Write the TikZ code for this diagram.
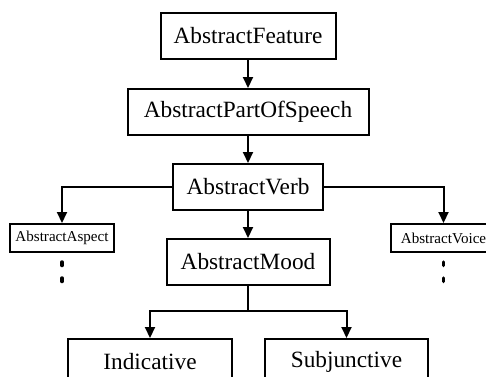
\documentclass[tikz,border=0pt]{standalone}
\usepackage{fontspec}
\setmainfont{Liberation Serif}
\usetikzlibrary{positioning, arrows.meta}

\begin{document}
\begin{tikzpicture}[
    % Set global spacing
    node distance=27pt,
    line width=2pt,
    % Define box styles
    base/.style={draw, inner sep=0pt, minimum height=46pt, font=\fontsize{23.3}{28}\selectfont},
    featbox/.style={base, minimum width=#1},
    smallbox/.style={base, minimum width=#1, minimum height=28pt, font=\fontsize{15.1}{18}\selectfont},
    % Dots under the side boxes
    vdot/.style={line width=3.5pt, line cap=round},
    % Arrow style
    >={Triangle[length=11pt, width=10pt]}
]

    % --- FRAME ---
    \path[use as bounding box, clip] (0,0) rectangle (486pt,-376pt);

    % --- NODES ---
    \node[featbox=175pt] (feature) at (248pt,-36pt) {AbstractFeature};
    \node[featbox=241pt, below=28pt of feature] (pos) {AbstractPartOfSpeech};
    \node[featbox=150pt, below=of pos] (verb) {AbstractVerb};
    \node[featbox=163pt, below=of verb] (mood) {AbstractMood};

    % Side branches
    \node[smallbox=104pt, below left=12pt and 57pt of verb] (aspect) {AbstractAspect};
    \node[smallbox=106pt, below right=12pt and 65.5pt of verb] (voice) {AbstractVoice};

    % Moods
    \node[featbox=164pt, below=52pt of mood, xshift=-98pt] (indic) {Indicative};
    \node[featbox=163pt, below=52pt of mood, xshift=98.5pt] (subj) {Subjunctive};

    % --- EDGES ---
    \draw[->] (feature) -- (pos);
    \draw[->] (pos) -- (verb);
    \draw[->] (verb) -- (mood);

    % Verb to the side boxes
    \draw[->] (verb.west) -| (aspect.north);
    \draw[->] (verb.east) -| (voice.north);

    % Mood splits in two
    \coordinate (split) at ([yshift=-25pt]mood.south);
    \draw (mood.south) -- (split);
    \draw[->] (split) -| (indic.north);
    \draw[->] (split) -| (subj.north);

    % Dots
    \draw[vdot] ([yshift=-9pt]aspect.south) -- ++(0,-3.5pt);
    \draw[vdot] ([yshift=-25pt]aspect.south) -- ++(0,-3.5pt);
    \draw[vdot] ([yshift=-9pt]voice.south) -- ++(0,-3.5pt);
    \draw[vdot] ([yshift=-25pt]voice.south) -- ++(0,-3.5pt);

\end{tikzpicture}
\end{document}
